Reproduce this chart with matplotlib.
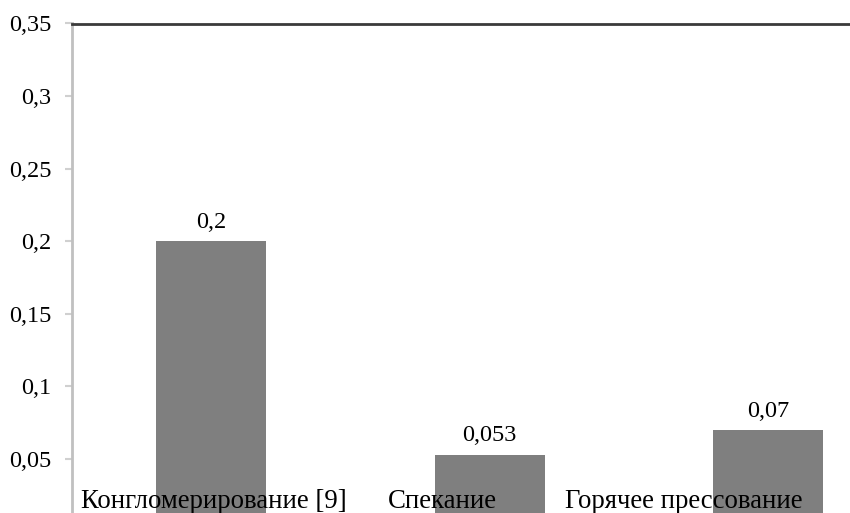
import matplotlib.pyplot as plt

categories = ['Конгломерирование [9]', 'Спекание', 'Горячее прессование']
values = [0.2, 0.053, 0.07]
value_labels = ['0,2', '0,053', '0,07']
yticks = [0.05, 0.1, 0.15, 0.2, 0.25, 0.3, 0.35]
ytick_labels = ['0,05', '0,1', '0,15', '0,2', '0,25', '0,3', '0,35']
# сдвиг подписей категорий относительно центров столбцов (как на оригинале)
label_shift = [0.01, -0.169, -0.302]

plt.rcParams['font.family'] = 'serif'
plt.rcParams['font.serif'] = ['Liberation Serif', 'DejaVu Serif']

fig = plt.figure(figsize=(8.5, 5.13), dpi=100)
ax = fig.add_axes([72 / 850, 0, 1 - 72 / 850, 1 - 23.5 / 513])

x = range(len(categories))
bars = ax.bar(x, values, width=0.395, color='#7f7f7f')

for b, lab in zip(bars, value_labels):
    ax.annotate(lab, (b.get_x() + b.get_width() / 2, b.get_height()),
                xytext=(0, 6), textcoords='offset points',
                ha='center', va='bottom', fontsize=17.5)

for i, (c, s) in enumerate(zip(categories, label_shift)):
    ax.text(i + s, 0.0162, c, ha='center', va='baseline', fontsize=19.3)

ax.set_xlim(-0.5, (850 - 211) / 278.5)
ax.set_ylim(0.0128, 0.35)
ax.set_yticks(yticks)
ax.set_yticklabels(ytick_labels, fontsize=17.5)
ax.set_xticks([])

ax.spines['right'].set_visible(False)
ax.spines['bottom'].set_visible(False)
ax.spines['left'].set_color('#c0c0c0')
ax.spines['left'].set_linewidth(2)
ax.spines['top'].set_color('#3a3a3a')
ax.spines['top'].set_linewidth(2)
ax.tick_params(axis='y', length=5, width=1.5, color='#d0d0d0', pad=10)

fig.savefig('out.png', dpi=100)
